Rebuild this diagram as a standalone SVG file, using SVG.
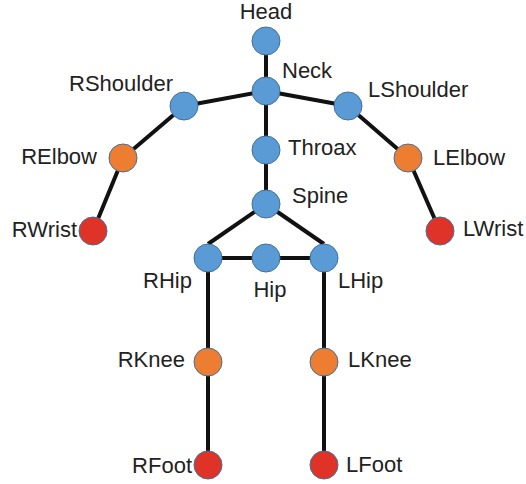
<svg xmlns="http://www.w3.org/2000/svg" width="526" height="484" viewBox="0 0 526 484">
<style>
.e{stroke:#111;stroke-width:4;fill:none;stroke-linecap:butt}
.b{fill:#5B9BD5;stroke:#41719C;stroke-width:1}
.o{fill:#ED7D31;stroke:#41719C;stroke-width:1}
.r{fill:#DF3327;stroke:#41719C;stroke-width:1}
text{font-family:"Liberation Sans",Arial,sans-serif;font-size:22px;fill:#222}
</style>
<rect width="526" height="484" fill="#fff"/>
<g id="edges">
<line class="e" x1="266" y1="41" x2="266" y2="91"/>
<line class="e" x1="266" y1="91" x2="184" y2="106"/>
<line class="e" x1="266" y1="91" x2="348" y2="106"/>
<line class="e" x1="266" y1="91" x2="266" y2="150"/>
<line class="e" x1="266" y1="150" x2="266" y2="204"/>
<line class="e" x1="184" y1="106" x2="123" y2="158"/>
<line class="e" x1="123" y1="158" x2="93" y2="231"/>
<line class="e" x1="348" y1="106" x2="408" y2="158"/>
<line class="e" x1="408" y1="158" x2="440" y2="231"/>
<line class="e" x1="266" y1="204" x2="208" y2="244"/>
<line class="e" x1="266" y1="204" x2="324" y2="244"/>
<line class="e" x1="208" y1="258" x2="324" y2="258"/>
<line class="e" x1="208" y1="258" x2="208" y2="465"/>
<line class="e" x1="324" y1="258" x2="324" y2="465"/>
</g>
<g id="Head"><circle class="b" cx="266" cy="41" r="14"/><text x="266" y="19" text-anchor="middle">Head</text></g>
<g id="Neck"><circle class="b" cx="266" cy="91" r="14"/><text x="282" y="78">Neck</text></g>
<g id="RShoulder"><circle class="b" cx="184" cy="106" r="14"/><text x="173" y="91" text-anchor="end">RShoulder</text></g>
<g id="LShoulder"><circle class="b" cx="348" cy="106" r="14"/><text x="368" y="97">LShoulder</text></g>
<g id="RElbow"><circle class="o" cx="123" cy="158" r="14"/><text x="97" y="164" text-anchor="end">RElbow</text></g>
<g id="LElbow"><circle class="o" cx="408" cy="158" r="14"/><text x="433" y="165">LElbow</text></g>
<g id="RWrist"><circle class="r" cx="93" cy="231" r="14"/><text x="77" y="237" text-anchor="end">RWrist</text></g>
<g id="LWrist"><circle class="r" cx="440" cy="231" r="14"/><text x="463" y="236">LWrist</text></g>
<g id="Throax"><circle class="b" cx="266" cy="150" r="14"/><text x="288" y="155">Throax</text></g>
<g id="Spine"><circle class="b" cx="266" cy="204" r="14"/><text x="292" y="203">Spine</text></g>
<g id="RHip"><circle class="b" cx="208" cy="258" r="14"/><text x="192" y="288" text-anchor="end">RHip</text></g>
<g id="Hip"><circle class="b" cx="266" cy="258" r="14"/><text x="270" y="297" text-anchor="middle">Hip</text></g>
<g id="LHip"><circle class="b" cx="324" cy="258" r="14"/><text x="338" y="288">LHip</text></g>
<g id="RKnee"><circle class="o" cx="208" cy="362" r="14"/><text x="185" y="367" text-anchor="end">RKnee</text></g>
<g id="LKnee"><circle class="o" cx="324" cy="362" r="14"/><text x="348" y="367">LKnee</text></g>
<g id="RFoot"><circle class="r" cx="208" cy="465" r="14"/><text x="192" y="473" text-anchor="end">RFoot</text></g>
<g id="LFoot"><circle class="r" cx="324" cy="465" r="14"/><text x="346" y="472">LFoot</text></g>
</svg>
